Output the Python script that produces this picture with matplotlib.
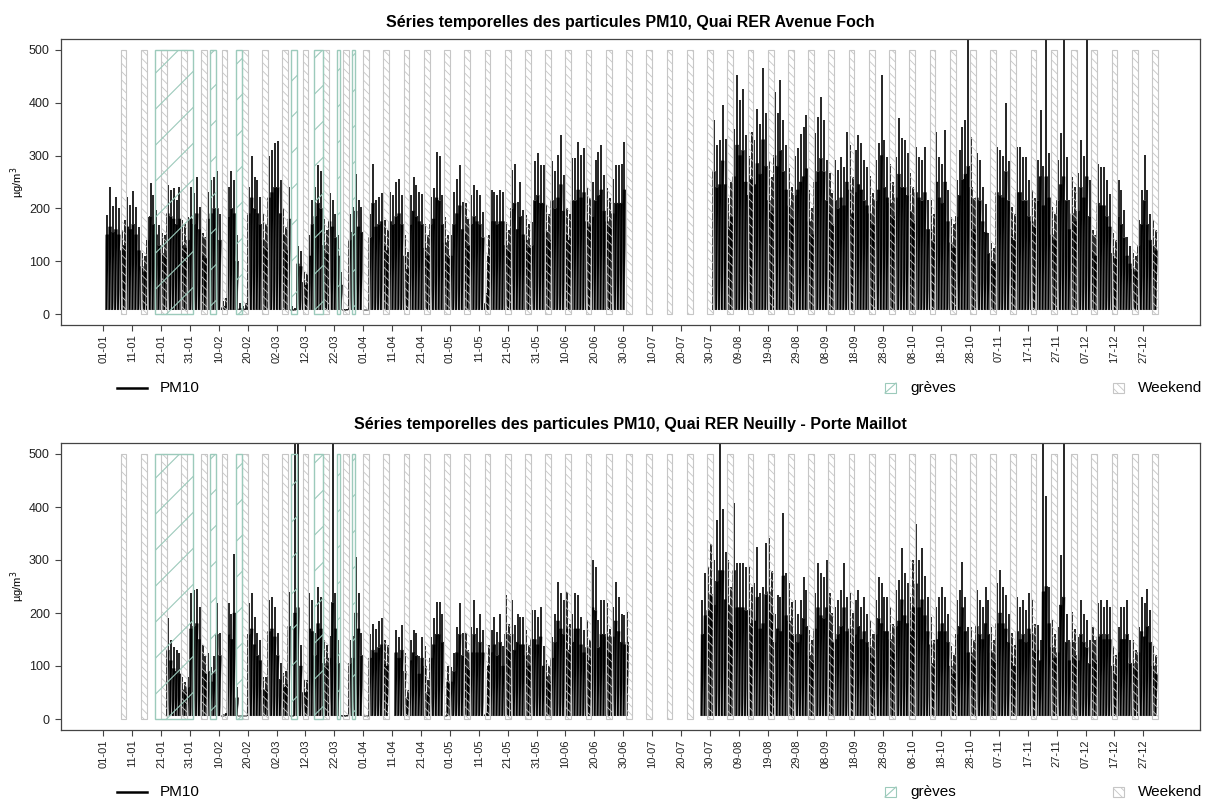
import matplotlib
matplotlib.use("Agg")
import matplotlib.pyplot as plt
import numpy as np
import pandas as pd
from matplotlib.collections import LineCollection, PolyCollection
from matplotlib.lines import Line2D
from matplotlib.patches import Rectangle

plt.rcParams["font.family"] = ["Liberation Sans", "DejaVu Sans"]
plt.rcParams["hatch.linewidth"] = 0.6

YEAR_START = pd.Timestamp("2023-01-01")
N_DAYS = 365

# strike days (first day, day after the last one)
greves = [("2023-01-19", "2023-02-01"), ("2023-02-07", "2023-02-09"),
          ("2023-02-16", "2023-02-18"), ("2023-03-07", "2023-03-09"),
          ("2023-03-15", "2023-03-18"), ("2023-03-23", "2023-03-24"),
          ("2023-03-28", "2023-03-29")]

# daily PM10 maxima and upper edge of the daytime band, µg/m3 (None = no data)
foch_peak = (
    [None, 187, 241, 205, 221, 200, 160, 178, 222, 206]
    + [233, 203, 165, 115, 110, 184, 249, 225, 197, 168]
    + [153, 150, 244, 235, 238, 216, 241, 178, 170, 184]
    + [241, 229, 260, 203, 153, 145, 232, 254, 260, 270]
    + [190, 25, 30, 241, 270, 254, 150, 20, 15, 20]
    + [241, 299, 260, 254, 222, 190, 170, 300, 310, 323]
    + [328, 254, 200, 165, 241, 15, 12, 128, 120, 80]
    + [75, 150, 216, 241, 282, 270, 180, 160, 229, 216]
    + [190, 150, 80, 10, 10, 190, 203, 265, 216, 203]
    + [8, 8, 190, 285, 216, 222, 229, 178, 160, 231]
    + [225, 250, 256, 225, 150, 118, 225, 260, 244, 231]
    + [228, 170, 150, 222, 238, 307, 300, 225, 184, 150]
    + [150, 231, 256, 282, 213, 210, 180, 225, 244, 235]
    + [225, 194, 40, 150, 235, 231, 225, 235, 231, 175]
    + [160, 273, 285, 213, 250, 197, 187, 170, 175, 289]
    + [304, 282, 282, 206, 190, 289, 270, 301, 339, 263]
    + [200, 190, 295, 295, 326, 301, 314, 238, 220, 250]
    + [292, 307, 320, 263, 238, 220, 256, 282, 282, 285]
    + [326] + [None] * 9
    + [None] * 10
    + [None] * 10
    + [None, 367, 320, 330, 396, 332, 220, 250, 350, 453]
    + [405, 427, 339, 300, 345, 330, 389, 360, 465, 380]
    + [289, 260, 420, 380, 443, 367, 320, 276, 240, 300]
    + [314, 340, 355, 377, 235, 200, 342, 374, 411, 368]
    + [292, 267, 230, 292, 273, 298, 279, 345, 320, 260]
    + [311, 339, 323, 292, 279, 261, 230, 292, 323, 453]
    + [330, 298, 285, 250, 298, 371, 333, 330, 304, 267]
    + [240, 317, 298, 292, 317, 216, 216, 190, 345, 298]
    + [285, 348, 235, 184, 170, 254, 311, 355, 368, 560]
    + [336, 220, 304, 292, 241, 209, 153, 134, 125, 317]
    + [311, 300, 399, 290, 203, 190, 317, 317, 298, 298]
    + [254, 235, 220, 292, 386, 280, 560, 304, 203, 190]
    + [292, 342, 560, 298, 216, 260, 240, 267, 330, 300]
    + [560, 254, 159, 150, 285, 279, 279, 254, 228, 153]
    + [140, 254, 235, 197, 146, 128, 115, 110, 178, 235]
    + [301, 235, 190, 178, 160]
)
foch_level = (
    [None, 150, 165, 155, 160, 150, 120, 130, 165, 160]
    + [170, 150, 120, 90, 80, 140, 185, 170, 150, 130]
    + [115, 110, 190, 185, 180, 170, 180, 130, 125, 140]
    + [180, 170, 190, 160, 110, 105, 180, 190, 200, 200]
    + [140, 12, 15, 185, 200, 190, 100, 10, 8, 10]
    + [190, 220, 200, 190, 170, 140, 125, 220, 230, 240]
    + [240, 190, 150, 120, 180, 8, 8, 95, 90, 60]
    + [55, 110, 170, 185, 210, 200, 130, 115, 175, 165]
    + [145, 110, 55, 6, 6, 140, 155, 195, 165, 155]
    + [5, 5, 145, 210, 165, 170, 175, 130, 120, 175]
    + [170, 185, 190, 170, 110, 85, 170, 195, 185, 175]
    + [170, 125, 110, 170, 180, 220, 215, 170, 135, 110]
    + [110, 170, 190, 205, 160, 150, 130, 170, 185, 175]
    + [170, 145, 20, 110, 175, 175, 170, 175, 175, 130]
    + [120, 200, 210, 160, 185, 150, 140, 125, 130, 215]
    + [225, 210, 210, 155, 140, 215, 200, 220, 245, 195]
    + [150, 140, 215, 215, 235, 220, 230, 175, 165, 185]
    + [215, 225, 235, 195, 175, 165, 190, 210, 210, 210]
    + [235] + [None] * 9
    + [None] * 10
    + [None] * 10
    + [None, 270, 240, 245, 290, 245, 165, 185, 260, 320]
    + [300, 310, 250, 225, 255, 245, 285, 265, 330, 280]
    + [215, 195, 300, 280, 310, 270, 235, 205, 180, 225]
    + [235, 250, 260, 275, 175, 150, 250, 270, 295, 270]
    + [215, 195, 170, 215, 200, 220, 205, 250, 235, 190]
    + [230, 245, 235, 215, 205, 190, 170, 215, 235, 300]
    + [240, 220, 210, 185, 220, 265, 240, 240, 225, 195]
    + [175, 230, 220, 215, 230, 160, 160, 140, 250, 220]
    + [210, 250, 175, 135, 125, 185, 225, 255, 265, 280]
    + [240, 160, 220, 215, 175, 155, 115, 100, 95, 230]
    + [225, 220, 270, 215, 150, 140, 230, 230, 215, 215]
    + [185, 175, 165, 215, 260, 205, 260, 220, 150, 140]
    + [215, 245, 260, 215, 160, 190, 175, 195, 240, 220]
    + [260, 185, 120, 110, 210, 205, 205, 185, 165, 115]
    + [105, 185, 170, 145, 110, 95, 85, 80, 130, 170]
    + [215, 170, 140, 130, 120]
)
neuilly_peak = (
    [None] * 10
    + [None] * 10
    + [None, None, 190, 150, 136, 130, 124, 80, 70, 80]
    + [237, 243, 246, 212, 140, 118, 124, 99, 118, 218]
    + [162, 10, 12, 218, 199, 312, 60, 6, 6, 6]
    + [218, 237, 193, 162, 149, 80, 80, 224, 231, 212]
    + [162, 105, 86, 90, 240, 6, 560, 600, 140, 74]
    + [74, 237, 224, 162, 250, 231, 149, 140, 156, 600]
    + [237, 149, 8, 8, 8, 149, 156, 305, 237, 162]
    + [5, 5, 160, 180, 170, 185, 190, 150, 140, None]
    + [None, 168, 155, 178, 124, 55, 149, 168, 162, 118]
    + [155, 137, 73, 155, 190, 221, 221, 199, 5, 100]
    + [99, 124, 174, 218, 162, 162, 130, 174, 224, 171]
    + [199, 168, 12, 140, 168, 193, 165, 199, 137, 234]
    + [180, 224, 178, 199, 193, 193, 168, 140, 205, 205]
    + [193, 212, 137, 111, 100, 155, 199, 259, 237, 224]
    + [240, 180, 199, 237, 234, 193, 168, 187, 150, 300]
    + [287, 187, 224, 224, 218, 170, 212, 259, 230, 199]
    + [196, 202] + [None] * 8
    + [None] * 10
    + [None] * 7 + [224, 275, 287]
    + [331, 300, 375, 600, 397, 316, 300, 250, 407, 294]
    + [294, 294, 287, 287, 250, 256, 325, 237, 249, 332]
    + [341, 280, 199, 234, 230, 388, 275, 256, 220, 224]
    + [199, 224, 268, 243, 168, 150, 237, 294, 275, 268]
    + [300, 237, 200, 212, 224, 243, 294, 230, 237, 200]
    + [224, 243, 212, 230, 199, 187, 160, 224, 268, 256]
    + [230, 230, 212, 180, 243, 262, 322, 275, 256, 230]
    + [300, 368, 300, 322, 270, 230, 193, 149, 212, 230]
    + [250, 230, 199, 137, 120, 224, 243, 297, 230, 174]
    + [174, 150, 243, 224, 212, 250, 224, 174, 150, 256]
    + [281, 250, 234, 199, 162, 140, 230, 212, 224, 205]
    + [237, 224, 180, 177, 149, 600, 420, 250, 187, 160]
    + [174, 309, 600, 199, 149, 202, 170, 155, 224, 199]
    + [187, 149, 174, 150, 218, 224, 212, 224, 212, 137]
    + [120, 174, 212, 212, 224, 149, 149, 130, 174, 230]
    + [218, 246, 205, 137, 120]
)
neuilly_level = (
    [None] * 10
    + [None] * 10
    + [None, None, 130, 110, 95, 90, 85, 55, 50, 60]
    + [170, 175, 180, 150, 95, 85, 90, 70, 85, 160]
    + [120, 6, 8, 160, 150, 200, 40, 4, 4, 4]
    + [160, 170, 140, 120, 110, 55, 55, 165, 170, 155]
    + [120, 75, 60, 65, 175, 4, 200, 210, 100, 50]
    + [50, 170, 165, 120, 180, 170, 105, 100, 115, 220]
    + [170, 105, 6, 6, 6, 105, 115, 200, 170, 120]
    + [4, 4, 115, 130, 125, 135, 140, 105, 100, None]
    + [None, 125, 115, 130, 90, 40, 110, 125, 120, 85]
    + [115, 100, 50, 115, 140, 160, 160, 145, 4, 70]
    + [70, 90, 125, 160, 120, 115, 95, 125, 160, 125]
    + [145, 125, 8, 100, 125, 140, 120, 145, 100, 160]
    + [130, 160, 130, 145, 140, 140, 120, 100, 150, 150]
    + [140, 155, 100, 80, 70, 115, 145, 185, 170, 160]
    + [170, 130, 145, 170, 170, 140, 125, 135, 110, 210]
    + [205, 135, 160, 160, 155, 125, 155, 185, 165, 145]
    + [140, 145] + [None] * 8
    + [None] * 10
    + [None] * 7 + [160, 195, 205]
    + [235, 215, 260, 280, 280, 225, 215, 180, 280, 210]
    + [210, 210, 205, 205, 180, 185, 230, 170, 180, 235]
    + [240, 200, 145, 170, 165, 270, 195, 185, 160, 160]
    + [145, 160, 190, 175, 120, 110, 170, 210, 195, 190]
    + [210, 170, 145, 150, 160, 175, 210, 165, 170, 145]
    + [160, 175, 150, 165, 145, 135, 115, 160, 190, 180]
    + [165, 165, 150, 130, 175, 185, 225, 195, 180, 165]
    + [210, 255, 210, 225, 195, 165, 140, 105, 150, 165]
    + [180, 165, 145, 100, 85, 160, 175, 210, 165, 125]
    + [125, 110, 175, 160, 150, 180, 160, 125, 110, 180]
    + [200, 180, 170, 145, 115, 100, 165, 150, 160, 145]
    + [170, 160, 130, 130, 110, 240, 250, 180, 135, 115]
    + [125, 215, 230, 145, 110, 145, 120, 110, 160, 145]
    + [135, 105, 125, 110, 155, 160, 150, 160, 150, 100]
    + [85, 125, 150, 150, 160, 105, 105, 95, 125, 165]
    + [155, 175, 145, 100, 85]
)

# nightly minimum, µg/m3
foch_night = 8
neuilly_night = 6

titles = ["Séries temporelles des particules PM10, Quai RER Avenue Foch",
          "Séries temporelles des particules PM10, Quai RER Neuilly - Porte Maillot"]

for arr in (foch_peak, foch_level, neuilly_peak, neuilly_level):
    assert len(arr) == N_DAYS, len(arr)

W, H = 1209, 801
GREEN = "#9ccabb"
GREY = "#c6c6c6"
FRAME = "#444444"

days = pd.date_range(YEAR_START, periods=N_DAYS, freq="D")
weekend_starts = np.flatnonzero(days.dayofweek == 5)
tick_days = np.arange(0, 361, 10)
tick_labels = [d.strftime("%d-%m") for d in YEAR_START + pd.to_timedelta(tick_days, unit="D")]
strike_spans = [((pd.Timestamp(a) - YEAR_START).days, (pd.Timestamp(b) - YEAR_START).days)
                for a, b in greves]


def draw_series(ax, peak, level, night):
    peak = np.array(peak, dtype=float)
    level = np.array(level, dtype=float)
    d = np.arange(peak.size)
    ok = ~np.isnan(peak)
    d, pk, lv = d[ok], peak[ok], level[ok]
    # one block per day: narrow at the night minimum, full width in the daytime band
    lv = np.maximum(lv, night)
    polys = [[(x - 0.18, night), (x + 0.42, night), (x + 0.88, y), (x - 0.08, y)]
             for x, y in zip(d, lv)]
    ax.add_collection(PolyCollection(polys, facecolors="black", edgecolors="black",
                                     linewidths=0.3, zorder=2))
    # daily maximum
    ax.vlines(d + 0.4, lv, pk, color="black", lw=1.2, zorder=2)


def strike_hatch(ax):
    # 45 degree lines across the whole panel, later clipped to each strike box
    bb = ax.get_position()
    k = (bb.width * W) / (bb.height * H)
    step = 36 / (bb.height * H)
    offs = np.arange(-k, 1 + step, step)
    return [[(0, c), (1, c + k)] for c in offs]


def make_panel(ax, peak, level, night):
    draw_series(ax, peak, level, night)
    for s in weekend_starts:
        ax.add_patch(Rectangle((s, 0), 2, 500, fill=False, edgecolor=GREY,
                               hatch="\\\\\\\\", lw=0.8, zorder=3))
    segs = strike_hatch(ax)
    for a, b in strike_spans:
        r = Rectangle((a, 0), b - a, 500, fill=False, edgecolor=GREEN, lw=1.0, zorder=4)
        ax.add_patch(r)
        lc = LineCollection(segs, colors=GREEN, lw=0.8, transform=ax.transAxes, zorder=4)
        ax.add_collection(lc, autolim=False)
        lc.set_clip_path(r)

    ax.set_xlim(-14.6, 379.6)
    ax.set_ylim(-20, 520)
    ax.set_yticks(np.arange(0, 501, 100))
    ax.set_xticks(tick_days)
    ax.set_xticklabels(tick_labels, rotation=90)
    ax.tick_params(axis="x", labelsize=8, length=4, pad=3, color=FRAME, labelcolor="#222222")
    ax.tick_params(axis="y", labelsize=9, length=4, pad=4, color=FRAME, labelcolor="#222222")
    for sp in ax.spines.values():
        sp.set_color(FRAME)
        sp.set_linewidth(0.9)
    ax.set_ylabel("µg/m$^3$", fontsize=8)
    ax.yaxis.set_label_coords(-0.030, 0.5)


def draw_legend(fig, y_px):
    y = 1 - y_px / H
    fig.add_artist(Line2D([117 / W, 147 / W], [y, y], color="black", lw=1.8))
    fig.text(160 / W, y, "PM10", fontsize=11, va="center")
    h = 10 / H
    fig.add_artist(Rectangle((885 / W, y - h / 2), 11 / W, h, fill=False,
                             edgecolor=GREEN, lw=0.8))
    fig.add_artist(Line2D([885 / W, 896 / W], [y - h / 2, y + h / 2], color=GREEN, lw=0.8))
    fig.text(910 / W, y, "grèves", fontsize=11, va="center")
    fig.add_artist(Rectangle((1113 / W, y - h / 2), 11 / W, h, fill=False,
                             edgecolor=GREY, hatch="\\\\\\\\", lw=0.8))
    fig.text(1138 / W, y, "Weekend", fontsize=11, va="center")


fig = plt.figure(figsize=(W / 100, H / 100), dpi=100)
left, right = 61 / W, 1200 / W
ax_top = fig.add_axes([left, 1 - 324.6 / H, right - left, 285.2 / H])
ax_bot = fig.add_axes([left, 1 - 729.6 / H, right - left, 286.2 / H])

make_panel(ax_top, foch_peak, foch_level, foch_night)
make_panel(ax_bot, neuilly_peak, neuilly_level, neuilly_night)

fig.text(630.5 / W, 1 - 22 / H, titles[0], fontsize=11.5, fontweight="bold",
         ha="center", va="center")
fig.text(630.5 / W, 1 - 425 / H, titles[1], fontsize=11.5, fontweight="bold",
         ha="center", va="center")
draw_legend(fig, 388)
draw_legend(fig, 792)

fig.savefig("out.png", dpi=100)
